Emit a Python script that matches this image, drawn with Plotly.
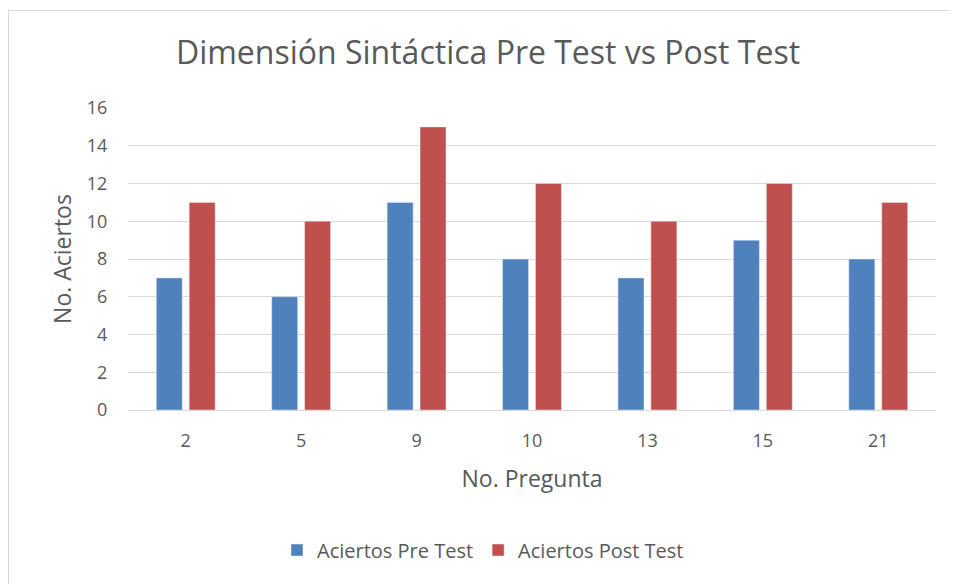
import plotly.graph_objects as go

preguntas = ["2", "5", "9", "10", "13", "15", "21"]
pre_test = [7, 6, 11, 8, 7, 9, 8]
post_test = [11, 10, 15, 12, 10, 12, 11]
y_ticks = [0, 2, 4, 6, 8, 10, 12, 14, 16]

font = "Open Sans"
gris = "#595959"

# page has an 8px body margin, so the figure is laid out 8px up/left
W, H = 949, 576
L, T, PW, PH = 120, 100, 808, 302

fig = go.Figure()
fig.add_trace(go.Bar(x=preguntas, y=pre_test, name="Aciertos Pre Test",
                     marker=dict(color="#4F81BD")))
fig.add_trace(go.Bar(x=preguntas, y=post_test, name="Aciertos Post Test",
                     marker=dict(color="#C0504D")))

fig.update_layout(
    width=W, height=H,
    margin=dict(l=L, r=W - L - PW, t=T, b=H - T - PH),
    paper_bgcolor="white", plot_bgcolor="white",
    font=dict(family=font, color=gris),
    barmode="group", bargap=0.43, bargroupgap=0.21,
    title=dict(text="Dimensión Sintáctica Pre Test vs Post Test",
               x=480 / W, xref="container", xanchor="center",
               y=1 - 45 / H, yref="container", yanchor="middle",
               font=dict(size=32, color=gris, family=font),
               automargin=False),
    legend=dict(orientation="h", x=(475 - L) / PW, xanchor="center",
                y=(T + PH - 542) / PH, yanchor="middle",
                font=dict(size=20, color=gris), traceorder="normal"),
    xaxis=dict(type="category", showgrid=False, showline=True, automargin=False,
               linecolor="#D9D9D9", linewidth=1,
               ticks="outside", ticklen=14, tickcolor="rgba(0,0,0,0)",
               tickfont=dict(size=18, color=gris),
               title=dict(text="No. Pregunta", font=dict(size=23, color=gris),
                          standoff=20)),
    yaxis=dict(range=[0, 16], tickvals=y_ticks, showgrid=True, automargin=False,
               gridcolor="#D9D9D9", gridwidth=1, zeroline=False,
               ticks="outside", ticklen=16, tickcolor="rgba(0,0,0,0)",
               tickfont=dict(size=18, color=gris),
               title=dict(text="No. Aciertos", font=dict(size=23, color=gris),
                          standoff=8)),
    shapes=[dict(type="rect", xref="paper", yref="paper",
                 x0=(0.5 - L) / PW, x1=1.2,
                 y0=-1, y1=1 + (T - 2.5) / PH,
                 line=dict(color="#D9D9D9", width=1), fillcolor="rgba(0,0,0,0)",
                 layer="below")],
)

fig.write_html("out.html")
